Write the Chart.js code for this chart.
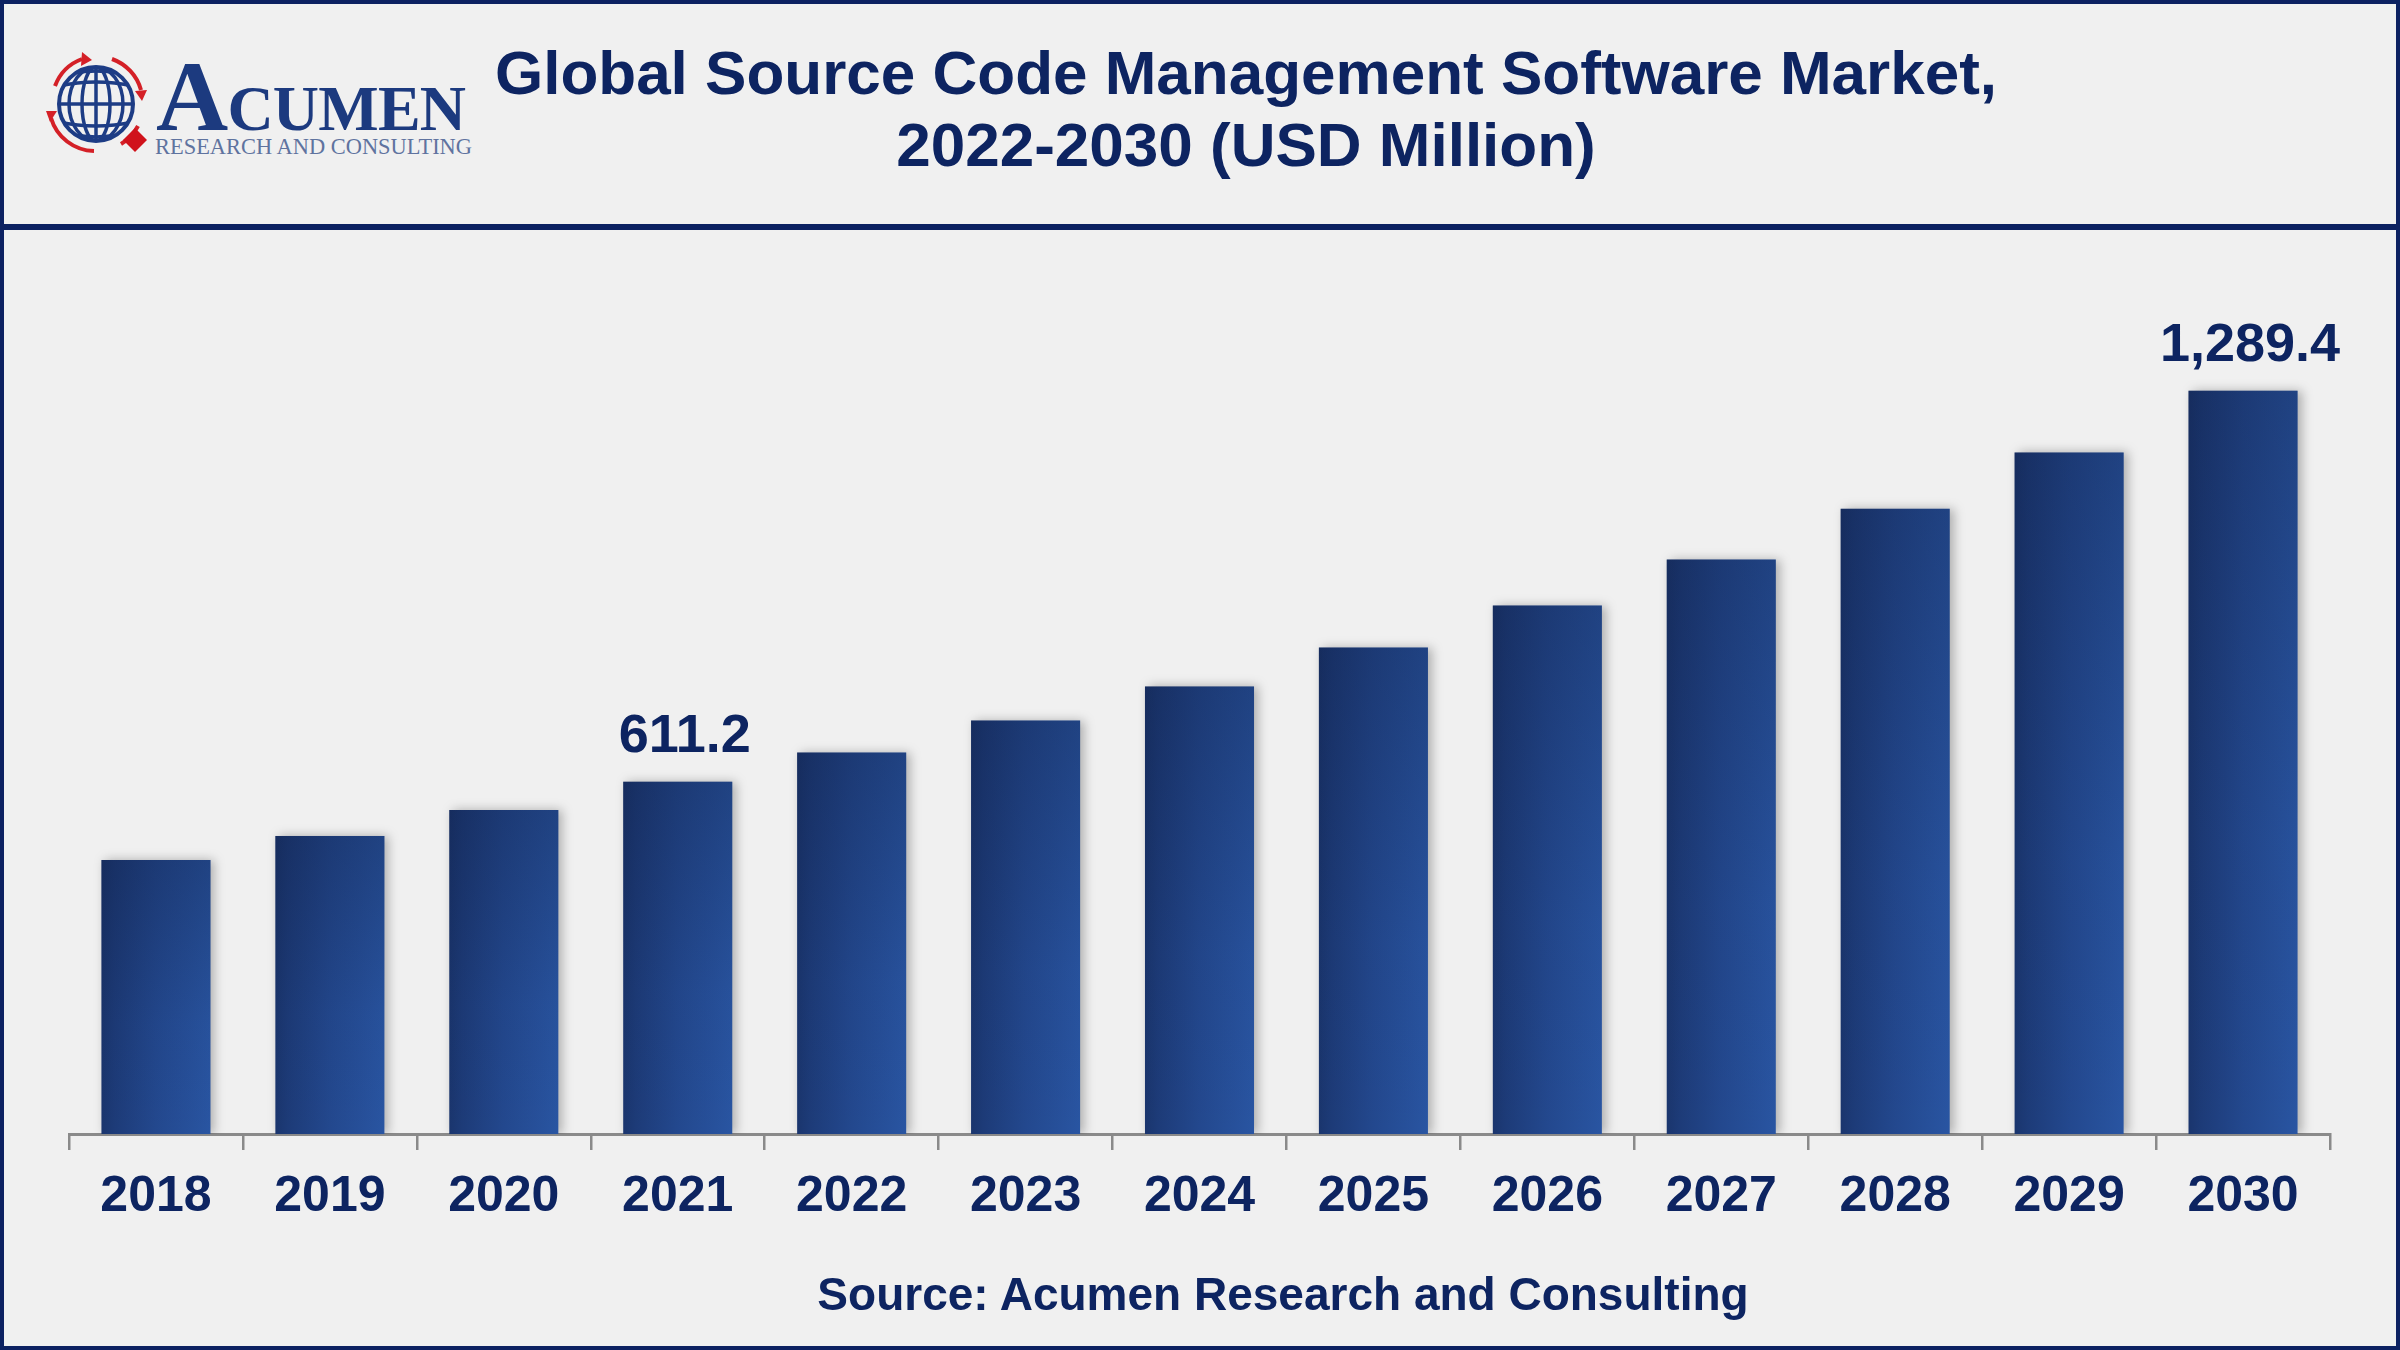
<!DOCTYPE html>
<html>
<head>
<meta charset="utf-8">
<script src="https://cdn.jsdelivr.net/npm/chart.js@4/dist/chart.umd.min.js"></script>
<style>
  html, body { margin: 0; padding: 0; }
  body { width: 2400px; height: 1350px; background: #f0f0f0; position: relative; overflow: hidden; font-family: "Liberation Sans", Arial, sans-serif; }
  #frame { position: absolute; left: 0; top: 0; width: 2400px; height: 1350px; box-sizing: border-box; border: 4px solid #0c2161; pointer-events: none; z-index: 5; }
  #sep { position: absolute; left: 0; top: 224px; width: 2400px; height: 6px; background: #0c2161; }
  .title { position: absolute; left: 1246px; transform: translateX(-50%); white-space: nowrap; font-weight: bold; font-size: 62px; color: #0d2461; line-height: 1; }
  #source { position: absolute; left: 1283px; top: 1271px; transform: translateX(-50%); white-space: nowrap; font-weight: bold; font-size: 46px; color: #0d2461; line-height: 1; }
  #logo { position: absolute; left: 0; top: 0; }
  #chart { position: absolute; left: 0; top: 230px; }
</style>
</head>
<body>
<div id="frame"></div>
<svg id="logo" width="520" height="220" viewBox="0 0 520 220">
  <defs>
    <clipPath id="gc"><circle cx="96" cy="104" r="37"/></clipPath>
  </defs>
  <g fill="none" stroke="#d42027" stroke-width="4">
    <path d="M 55 86 A 46 46 0 0 1 82 59"/>
    <path d="M 112 59 A 46 46 0 0 1 141 90"/>
    <path d="M 138 126 A 46 46 0 0 1 121 144"/>
    <path d="M 94 151 A 46 46 0 0 1 51 118"/>
  </g>
  <g fill="#d42027">
    <polygon points="82,52 92,60 81,66"/>
    <polygon points="135,91 147,90 142,101"/>
    <polygon points="46,111 57,111 50,122"/>
  </g>
  <circle cx="96" cy="104" r="37" fill="#f0f0f0" stroke="#1d3c85" stroke-width="4"/>
  <g clip-path="url(#gc)" fill="none" stroke="#1d3c85" stroke-width="3.5">
    <ellipse cx="96" cy="104" rx="14" ry="37"/>
    <ellipse cx="96" cy="104" rx="27" ry="37"/>
    <line x1="96" y1="64" x2="96" y2="144"/>
    <line x1="56" y1="104" x2="136" y2="104"/>
    <path d="M 59 86 Q 96 78 133 86"/>
    <path d="M 59 122 Q 96 130 133 122"/>
    <path d="M 65 74 Q 96 68 127 74"/>
    <path d="M 65 134 Q 96 140 127 134"/>
  </g>
  <polygon points="135,128 147,140 135,152 123,140" fill="#d0121b"/>
  <text x="156" y="130" font-family="Liberation Serif, Times New Roman, serif" font-weight="bold" fill="#1c3a7f" textLength="310" lengthAdjust="spacing"><tspan font-size="100">A</tspan><tspan font-size="64">CUMEN</tspan></text>
  <text x="155" y="154" font-family="Liberation Serif, Times New Roman, serif" font-size="24" fill="#5f739f" textLength="317" lengthAdjust="spacingAndGlyphs">RESEARCH AND CONSULTING</text>
</svg>
<div class="title" style="top: 42px;">Global Source Code Management Software Market,</div>
<div class="title" style="top: 114px;">2022-2030 (USD Million)</div>
<div id="sep"></div>
<canvas id="chart" width="2400" height="1120"></canvas>
<div id="source">Source: Acumen Research and Consulting</div>
<script>
const years = ["2018","2019","2020","2021","2022","2023","2024","2025","2026","2027","2028","2029","2030"];
const marketValues = [475.3, 517.0, 562.0, 611.2, 661.6, 717.2, 776.4, 843.7, 916.6, 996.3, 1084.4, 1182.1, 1289.4];
const valueLabels = ["", "", "", "611.2", "", "", "", "", "", "", "", "", "1,289.4"];

const NAVY = '#0d2461';

function barFill(context) {
  const chart = context.chart;
  const area = chart.chartArea;
  if (!area || !chart.scales.x) return '#234a93';
  const i = context.dataIndex;
  const cx = chart.scales.x.getPixelForValue(i);
  const half = 55;
  const g = chart.ctx.createLinearGradient(cx - half, 0, cx + half, 0);
  g.addColorStop(0, '#1a356d');
  g.addColorStop(0.12, '#1d3b78');
  g.addColorStop(0.5, '#23488e');
  g.addColorStop(1, '#2955a2');
  return g;
}

const shadowPlugin = {
  id: 'barShadow',
  beforeDatasetsDraw(chart) {
    const c = chart.ctx;
    c.save();
    c.shadowColor = 'rgba(0,0,0,0.28)';
    c.shadowBlur = 10;
    c.shadowOffsetX = 4;
    c.shadowOffsetY = 0;
  },
  afterDatasetsDraw(chart) {
    chart.ctx.restore();
    // top-shading overlay following each bar element
    const c = chart.ctx;
    const meta = chart.getDatasetMeta(0);
    c.save();
    meta.data.forEach((bar) => {
      const w = bar.width, h = bar.base - bar.y;
      const g = c.createLinearGradient(0, bar.y, 0, bar.base);
      g.addColorStop(0, 'rgba(12,24,58,0.30)');
      g.addColorStop(0.6, 'rgba(12,24,58,0.06)');
      g.addColorStop(1, 'rgba(12,24,58,0)');
      c.fillStyle = g;
      c.fillRect(bar.x - w / 2, bar.y, w, h);
    });
    c.restore();
  }
};

const labelPlugin = {
  id: 'valueLabels',
  afterDatasetsDraw(chart) {
    const c = chart.ctx;
    const meta = chart.getDatasetMeta(0);
    c.save();
    c.font = 'bold 54px "Liberation Sans", Arial, sans-serif';
    c.fillStyle = NAVY;
    c.textAlign = 'center';
    c.textBaseline = 'middle';
    meta.data.forEach((bar, i) => {
      if (!valueLabels[i]) return;
      c.fillText(valueLabels[i], bar.x + 7, bar.y - 45);
    });
    c.restore();
  }
};

new Chart(document.getElementById('chart'), {
  type: 'bar',
  data: {
    labels: years,
    datasets: [{
      data: marketValues,
      backgroundColor: barFill,
      borderWidth: 0,
      categoryPercentage: 1.0,
      barPercentage: 0.627
    }]
  },
  options: {
    responsive: false,
    devicePixelRatio: 1,
    animation: false,
    layout: { padding: { left: 69, right: 70, top: 30, bottom: 0 } },
    plugins: { legend: { display: false }, tooltip: { enabled: false }, title: { display: false } },
    scales: {
      x: {
        afterFit(scale) { scale.height = 216; },
        grid: { display: true, drawOnChartArea: false, drawTicks: true, tickLength: 16, color: '#8a8a8a', lineWidth: 2.5, offset: true },
        border: { display: true, color: '#8a8a8a', width: 3 },
        ticks: { color: NAVY, font: { family: '"Liberation Sans", Arial, sans-serif', size: 50, weight: 'bold' }, padding: 17, maxRotation: 0, autoSkip: false }
      },
      y: { display: false, min: 0, max: 1516 }
    }
  },
  plugins: [shadowPlugin, labelPlugin]
});
</script>
</body>
</html>
